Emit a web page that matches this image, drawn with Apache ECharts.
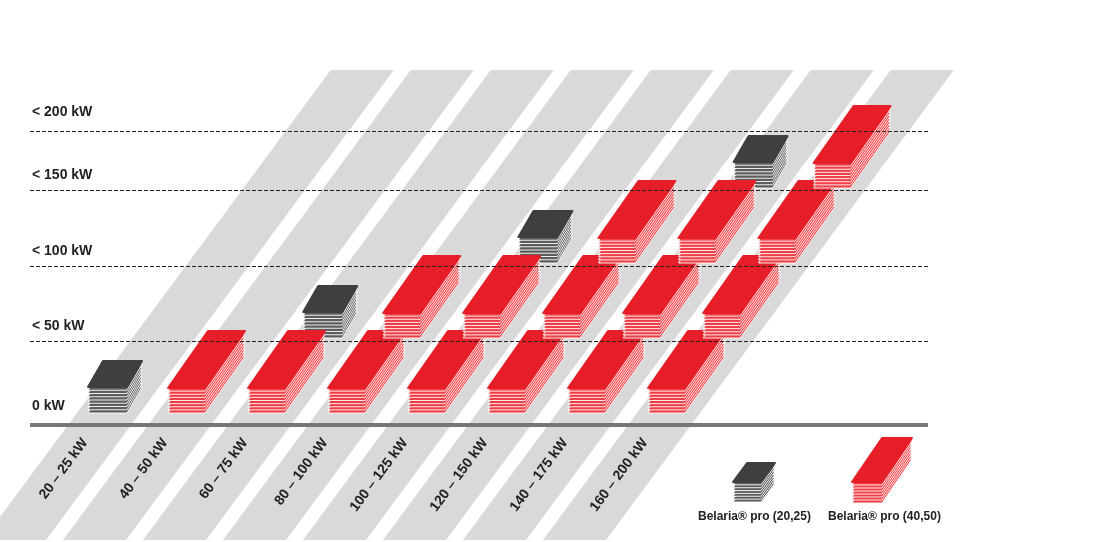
<!DOCTYPE html>
<html><head><meta charset="utf-8">
<script src="https://cdn.jsdelivr.net/npm/echarts@6/dist/echarts.min.js"></script>
<style>html,body{margin:0;padding:0;background:#fff}#c{width:1100px;height:542px}</style>
</head><body><div id="c"></div>
<script>
// ---- data ----
const categories = ['20 – 25 kW','40 – 50 kW','60 – 75 kW','80 – 100 kW','100 – 125 kW','120 – 150 kW','140 – 175 kW','160 – 200 kW'];
const yTickLabels = ['0 kW','< 50 kW','< 100 kW','< 150 kW','< 200 kW'];
const yTickLevels = [-0.16, 0.96, 1.96, 2.97, 3.76];
// blocks: [column, level]
const darkBlocks = [[0,0],[2,1],[4,2],[6,3]];
const redBlocks = [[1,0],[2,0],[3,0],[4,0],[5,0],[6,0],[7,0],
                   [3,1],[4,1],[5,1],[6,1],[7,1],
                   [5,2],[6,2],[7,2],
                   [7,3]];
const legendNames = ['Belaria® pro (20,25)','Belaria® pro (40,50)'];

const LEVEL_SHIFT = 0.69;
const SLOPE = 0.74;
const RED = '#e61e28', RED_PLATE = '#ef3e45', DARK = '#3f3f3f', DARK_PLATE = '#5c5c5c';
const FONT = '"Liberation Sans Narrow","Liberation Sans",Arial,sans-serif';

function blockEls(x0, y0, w, sk, h, stack, n, face, plate) {
  const yb = y0 - stack;
  const pts = d => [[x0, yb + d], [x0 + w, yb + d], [x0 + w + sk, yb - h + d], [x0 + sk, yb - h + d]];
  const els = [];
  for (let k = n; k >= 1; k--) {
    els.push({type:'polygon', shape:{points:pts(stack*k/n)}, style:{fill:plate, stroke:'#fff', lineWidth:0.9, lineJoin:'round'}});
  }
  els.push({type:'polygon', shape:{points:pts(0)}, style:{fill:face, stroke:face, lineWidth:2, lineJoin:'round'}});
  return els;
}

function blockSeries(data, dark) {
  return {
    type:'custom', data:data, z:3,
    renderItem:(params, api) => {
      const c = api.value(0), l = api.value(1);
      const p = api.coord([c + LEVEL_SHIFT*l, l]);
      const els = dark ? blockEls(p[0], p[1], 39, 15, 26, 26, 8, DARK, DARK_PLATE)
                       : blockEls(p[0], p[1], 37, 40, 57, 25, 8, RED, RED_PLATE);
      return {type:'group', children:els};
    }
  };
}

const chart = echarts.init(document.getElementById('c'));
const topLevel = 4.573;
chart.setOption({
  animation:false,
  grid:{left:0,right:0,top:0,bottom:0},
  xAxis:{type:'value', min:-1.1, max:12.65, show:false},
  yAxis:{type:'value', min:-1.72, max:5.5067, show:false},
  graphic:[
    {type:'group', children: blockEls(733, 502, 28, 14, 19, 20, 7, DARK, DARK_PLATE)},
    {type:'group', children: blockEls(852, 503, 30, 30, 44, 21, 7, RED, RED_PLATE)},
    {type:'text', left:698, top:511, style:{text:legendNames[0], font:'bold 12px '+FONT, fill:'#222'}},
    {type:'text', left:828, top:511, style:{text:legendNames[1], font:'bold 12px '+FONT, fill:'#222'}}
  ],
  series:[
    {
      type:'custom', z:1,
      data: categories.map((n,i)=>[i, n]),
      renderItem:(params, api) => {
        const c = api.value(0);
        const p = api.coord([c, 0]);
        const top = api.coord([0, topLevel])[1];
        const bot = 540;
        const lx = p[0] - 11;
        const lt = lx + (p[1]-top)*SLOPE, lb = lx - (bot-p[1])*SLOPE;
        const ey = p[1] + 27, ex = p[0] - 3;
        return {type:'group', children:[
          {type:'polygon', shape:{points:[[lt,top],[lt+63,top],[lb+63,bot],[lb,bot]]}, style:{fill:'#d9d9d9'}},
          {type:'text', x:ex, y:ey, rotation:53.5*Math.PI/180, z2:5,
           style:{text:categories[c], align:'right', verticalAlign:'middle', font:'bold 14px '+FONT, fill:'#222'}}
        ]};
      },
      markLine:{
        silent:true, symbol:'none', animation:false,
        data: yTickLevels.map((v,i)=>[
          {coord:[-0.725, v], lineStyle: i===0 ? {type:'solid', color:'#777', width:4} : {type:'dashed', color:'#222', width:1, dashOffset:0},
           label:{show:true, formatter:yTickLabels[i], position:'insideStartTop', distance:[2, i===0?12:(i===4?12:8)], color:'#222', fontWeight:'bold', fontSize:14, fontFamily:FONT}},
          {coord:[i===0?10.5:10.525, v]}
        ])
      }
    },
    blockSeries(darkBlocks, true),
    blockSeries(redBlocks, false)
  ]
});
</script></body></html>
